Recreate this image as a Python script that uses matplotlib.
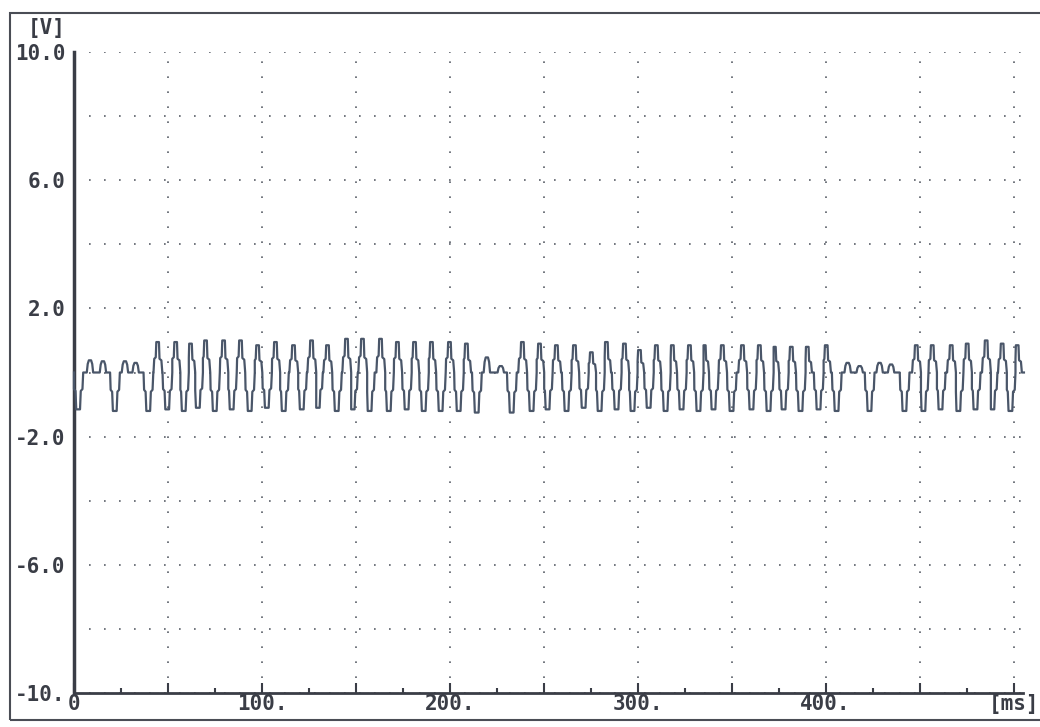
import numpy as np
import matplotlib
matplotlib.use("Agg")
import matplotlib.pyplot as plt
from matplotlib.patches import Rectangle
from matplotlib.font_manager import FontProperties

# positive pulses: centre time [ms], height [V]
peak_t = [44.7, 54.3, 62.2, 70.2, 79.8, 88.8, 97.9, 107.4, 117.0, 126.6,
          135.1, 145.2, 153.7, 163.3, 172.3, 181.4, 190.4, 200.0, 209.0,
          238.8, 247.9, 256.9, 266.5, 275.5, 283.5, 293.1, 301.1, 310.1, 318.6,
          327.7, 335.6, 345.2, 355.9, 364.9, 372.9, 381.9, 390.4, 400.5,
          448.4, 456.9, 467.0, 475.5, 485.6, 494.1, 502.1]
peak_v = [0.95, 0.95, 0.9, 1.0, 1.0, 1.0, 0.85, 0.95, 0.85, 1.0,
          0.85, 1.05, 1.05, 1.05, 0.95, 0.95, 0.95, 0.95, 0.9,
          0.95, 0.9, 0.85, 0.85, 0.63, 0.95, 0.9, 0.7, 0.85, 0.85,
          0.85, 0.85, 0.85, 0.85, 0.85, 0.8, 0.8, 0.8, 0.85,
          0.85, 0.85, 0.85, 0.9, 1.0, 0.9, 0.85]

# negative pulses: centre time [ms], depth [V]
trough_t = [2.3, 21.8, 39.6, 49.7, 58.5, 66.0, 75.0, 84.0, 93.6, 102.7,
            111.7, 121.3, 129.8, 139.9, 148.4, 157.4, 167.6, 177.1, 186.2, 195.2,
            204.8, 214.4, 233.0, 243.6, 252.1, 262.2, 271.3, 279.8, 288.8, 297.3,
            305.9, 314.9, 323.4, 332.4, 340.4, 350.0, 360.6, 369.7, 377.7, 386.7,
            396.3, 405.9, 423.4, 442.0, 452.1, 461.2, 470.7, 479.8, 488.8, 498.4]
trough_v = [-1.15, -1.2, -1.2, -1.15, -1.2, -1.1, -1.2, -1.15, -1.2, -1.1,
            -1.2, -1.15, -1.1, -1.2, -1.15, -1.2, -1.2, -1.15, -1.2, -1.2,
            -1.2, -1.25, -1.25, -1.2, -1.15, -1.2, -1.1, -1.2, -1.15, -1.2,
            -1.1, -1.2, -1.15, -1.2, -1.15, -1.2, -1.15, -1.2, -1.15, -1.2,
            -1.15, -1.2, -1.2, -1.2, -1.2, -1.15, -1.2, -1.15, -1.15, -1.2]

# small bumps in the gaps
bump_t = [8.5, 15.4, 27.1, 32.8, 219.7, 227.1, 411.7, 418.1, 428.7, 434.8]
bump_v = [0.38, 0.35, 0.35, 0.3, 0.47, 0.2, 0.3, 0.2, 0.3, 0.25]

t_end = 505.5

y_ticks = [-10, -8, -6, -4, -2, 0, 2, 4, 6, 8, 10]
y_labels = ["-10.", "", "-6.0", "", "-2.0", "", "2.0", "", "6.0", "", "10.0"]
x_ticks = [0, 50, 100, 150, 200, 250, 300, 350, 400, 450, 500]
x_labels = ["0", "", "100.", "", "200.", "", "300.", "", "400.", "", "[ms]"]

# stepped pulse outlines (relative time, fraction of amplitude)
shapes = {
    "peak": ([-2.4, -2.0, -1.2, -0.9, 0.5, 0.8, 1.8, 2.3],
             [0, 0.45, 0.5, 1.0, 1.0, 0.45, 0.4, 0]),
    "trough": ([-2.6, -2.3, -1.5, -1.1, 0.9, 1.3, 2.2, 2.6],
               [0, 0.45, 0.5, 1.0, 1.0, 0.5, 0.45, 0]),
    "bump": ([-1.7, -1.2, -0.6, 0.6, 1.2, 1.7],
             [0, 0.7, 1.0, 1.0, 0.7, 0]),
}

events = ([(t, v, "peak") for t, v in zip(peak_t, peak_v)] +
          [(t, v, "trough") for t, v in zip(trough_t, trough_v)] +
          [(t, v, "bump") for t, v in zip(bump_t, bump_v)])
events.sort(key=lambda e: e[0])

xs, ys = [0.0], [0.0]
for t, v, kind in events:
    dt, f = shapes[kind]
    for d, k in zip(dt, f):
        # neighbouring pulses touch: keep time monotonic (vertical step)
        xs.append(max(t + d, xs[-1]))
        ys.append(v * k)
xs.append(t_end)
ys.append(0.0)

ink = "#3a3d46"
trace = "#4a5669"

fig = plt.figure(figsize=(10.4, 7.27), dpi=100)
ax = fig.add_axes([74 / 1040, 34 / 727, 949 / 1040, 641 / 727])

ax.plot(xs, ys, color=trace, lw=1.6, clip_on=False, zorder=3)

ax.set_xlim(0, 505)
ax.set_ylim(-10, 10)
ax.set_xticks(x_ticks)
ax.set_xticklabels(x_labels)
ax.set_xticks(np.arange(25, 500, 50), minor=True)
ax.set_yticks(y_ticks)
ax.set_yticklabels(y_labels)

fp = FontProperties(family="DejaVu Sans Mono", size=15, weight="bold")
for lab in ax.get_xticklabels() + ax.get_yticklabels():
    lab.set_fontproperties(fp)
    lab.set_color(ink)

ax.tick_params(axis="x", which="major", direction="in", length=7, width=1.5,
               color=ink, pad=1)
ax.tick_params(axis="x", which="minor", direction="in", length=3.5, width=1.5,
               color=ink)
ax.tick_params(axis="y", length=0, pad=6)

ax.grid(True, which="major", linestyle=(0, (1, 8)), color="#5a5f68", lw=1.2)

for side in ("top", "right"):
    ax.spines[side].set_visible(False)
ax.spines["left"].set_linewidth(2.5)
ax.spines["bottom"].set_linewidth(2.0)
ax.spines["left"].set_color(ink)
ax.spines["bottom"].set_color(ink)

fig.text(47 / 1040, 1 - 28 / 727, "[V]", ha="center", va="center",
         fontproperties=fp, color=ink)

fig.add_artist(Rectangle((10 / 1040, 7 / 727), 1.2, 707 / 727,
                         transform=fig.transFigure, fill=False,
                         edgecolor="#4a4d55", lw=1.5))

fig.savefig("out.png", dpi=100, facecolor="white")
